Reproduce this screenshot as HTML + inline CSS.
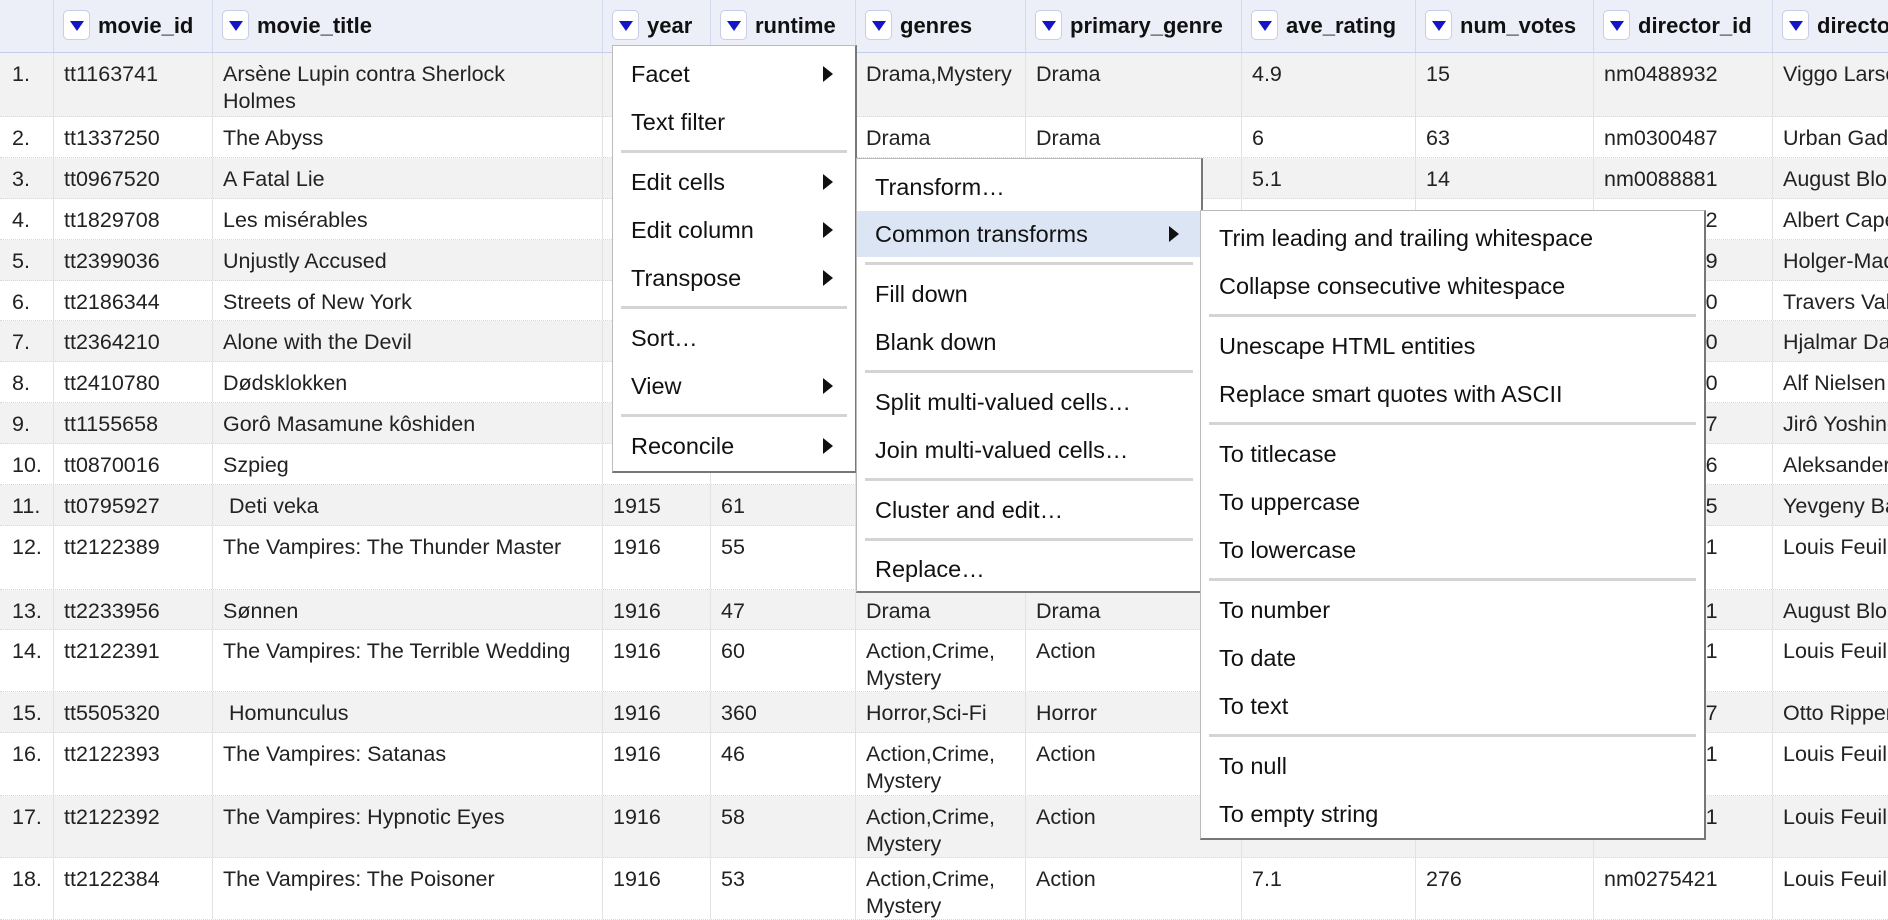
<!DOCTYPE html>
<html><head><meta charset="utf-8"><style>
body{margin:0;width:1888px;height:880px;overflow:hidden;background:#fff;font-family:"Liberation Sans",Arial,sans-serif;position:relative}
.hdr{position:absolute;left:0;top:0;width:1888px;height:52px;background:#eceef8;border-bottom:3px solid #c4cdf0}
.hc{position:absolute;top:0;height:52px;border-left:1px solid #d3d8ea;font-weight:bold;font-size:22px;line-height:52px;color:#111;white-space:nowrap;overflow:hidden}
.dd{display:inline-block;vertical-align:middle;width:27px;height:30px;margin:0 8px 4px 9px;background:#fff;border:1px solid #c9cde6;border-radius:5px;position:relative;box-sizing:border-box}
.dd:after{content:"";position:absolute;left:6px;top:10px;border-left:7px solid transparent;border-right:7px solid transparent;border-top:10px solid #1515c8}
.row{position:absolute;left:0;width:1888px;border-bottom:1px dotted #d8d8d8}
.c{position:absolute;top:0;bottom:0;border-left:1px solid #e2e2e2;padding:8px 10px 0 10px;box-sizing:border-box;font-size:21.5px;line-height:27px;color:#222;overflow:hidden}
.menu{position:absolute;background:#fff;border:1px solid #bbb;border-right:2px solid #777;border-bottom:2px solid #777;box-sizing:border-box}
.mi{position:absolute;left:0;right:0;height:46px;font-size:23.5px;line-height:46px;padding-left:18px;color:#111;white-space:nowrap}
.mi.hl{background:#dbe5f4}
.arr{position:absolute;right:22px;top:15px;border-top:8px solid transparent;border-bottom:8px solid transparent;border-left:10px solid #111}
.sep{position:absolute;left:8px;right:8px;height:0;border-top:3px solid #d4d4d4}
</style></head><body>
<div class="hdr"></div>
<div id="table"></div>
<script>
const colX=[0,53,212,602,710,855,1025,1241,1415,1593,1772,1888];
const colNames=["","movie_id","movie_title","year","runtime","genres","primary_genre","ave_rating","num_votes","director_id","director_name"];
const rowTops=[53,117,158,199,240,281,321,362,403,444,485,526,590,630,692,733,796,858,920];
const ids=["tt1163741","tt1337250","tt0967520","tt1829708","tt2399036","tt2186344","tt2364210","tt2410780","tt1155658","tt0870016","tt0795927","tt2122389","tt2233956","tt2122391","tt5505320","tt2122393","tt2122392","tt2122384"];
const titles=["Arsène Lupin contra Sherlock\nHolmes","The Abyss","A Fatal Lie","Les misérables","Unjustly Accused","Streets of New York","Alone with the Devil","Dødsklokken","Gorô Masamune kôshiden","Szpieg"," Deti veka","The Vampires: The Thunder Master","Sønnen","The Vampires: The Terrible Wedding"," Homunculus","The Vampires: Satanas","The Vampires: Hypnotic Eyes","The Vampires: The Poisoner"];
const years=["1910","1910","1911","1913","1913","1913","1914","1914","1914","1914","1915","1916","1916","1916","1916","1916","1916","1916"];
const runtimes=["","","","","","","","","","","61","55","47","60","360","46","58","53"];
const genres=["Drama,Mystery","Drama","Drama","Drama","Drama","Drama","Drama","Drama","Drama","Drama","Drama","Action,Crime, Mystery","Drama","Action,Crime, Mystery","Horror,Sci-Fi","Action,Crime, Mystery","Action,Crime, Mystery","Action,Crime, Mystery"];
const pgenres=["Drama","Drama","Drama","Drama","Drama","Drama","Drama","Drama","Drama","Drama","Drama","Action","Drama","Action","Horror","Action","Action","Action"];
const ratings=["4.9","6","5.1","6.4","5.8","5.5","6.0","5.9","6.1","6.3","6.2","7.0","5.9","7.1","6.2","7.0","7.1","7.1"];
const votes=["15","63","14","11","23","12","20","16","10","15","12","270","14","280","160","265","275","276"];
const dirIds=["nm0488932","nm0300487","nm0088881","nm0135072","nm0389779","nm0885720","nm0198190","nm0629830","nm0948577","nm0095676","nm0059655","nm0275421","nm0088881","nm0275421","nm0727617","nm0275421","nm0275421","nm0275421"];
const dirNames=["Viggo Larsen","Urban Gad","August Blom","Albert Capellani","Holger-Madsen","Travers Vale","Hjalmar Davidsen","Alf Nielsen","Jirô Yoshino","Aleksander Hertz","Yevgeny Bauer","Louis Feuillade","August Blom","Louis Feuillade","Otto Rippert","Louis Feuillade","Louis Feuillade","Louis Feuillade"];
const T=document.getElementById('table');
for(let i=1;i<colNames.length;i++){
  const h=document.createElement('div');h.className='hc';
  h.style.left=colX[i]+'px';h.style.width=(colX[i+1]-colX[i])+'px';
  
  
  const d=document.createElement('span');d.className='dd';
  
  
  h.appendChild(d);h.appendChild(document.createTextNode(colNames[i]));
  T.appendChild(h);
}
for(let r=0;r<ids.length;r++){
  const row=document.createElement('div');row.className='row';
  row.style.top=rowTops[r]+'px';row.style.height=(rowTops[r+1]-rowTops[r]-1)+'px';
  row.style.background=r%2===0?'#f2f2f2':'#fff';
  
  
  const vals=[(r+1)+'.',ids[r],titles[r],years[r],runtimes[r],genres[r],pgenres[r],ratings[r],votes[r],dirIds[r],dirNames[r]];
  for(let c=0;c<vals.length;c++){
    const cell=document.createElement('div');cell.className='c';
    cell.style.left=colX[c]+'px';cell.style.width=(colX[c+1]-colX[c])+'px';
    if(c===0){cell.style.borderLeft='none';cell.style.paddingLeft='12px';}
    cell.style.whiteSpace=(c===10)?'pre':'pre-wrap';
    cell.textContent=vals[c];
    
    
    row.appendChild(cell);
  }
  T.appendChild(row);
}
function menu(name,x,y,w,h,items){
  const m=document.createElement('div');m.className='menu';
  m.style.left=x+'px';m.style.top=y+'px';m.style.width=w+'px';m.style.height=h+'px';
  
  
  for(const it of items){
    if(it[0]==='-'){const s=document.createElement('div');s.className='sep';s.style.top=(it[1]-y-2)+'px';
      
      
      m.appendChild(s);continue;}
    const e=document.createElement('div');e.className='mi'+(it[3]?' hl':'');
    e.style.top=(it[1]-y-23)+'px';e.textContent=it[0];
    
    
    if(it[2]){const a=document.createElement('span');a.className='arr';e.appendChild(a);}
    m.appendChild(e);
  }
  document.body.appendChild(m);
}
menu('column-menu',612,45,245,428,[["Facet",73,1],["Text filter",121],["-",151],["Edit cells",181,1],["Edit column",229,1],["Transpose",277,1],["-",307],["Sort…",337],["View",385,1],["-",415],["Reconcile",445,1]]);
menu('edit-cells-submenu',856,158,347,435,[["Transform…",186],["Common transforms",233,1,1],["-",263],["Fill down",293],["Blank down",341],["-",371],["Split multi-valued cells…",401],["Join multi-valued cells…",449],["-",479],["Cluster and edit…",509],["-",539],["Replace…",568]]);
menu('common-transforms-submenu',1200,210,506,630,[["Trim leading and trailing whitespace",237],["Collapse consecutive whitespace",285],["-",315],["Unescape HTML entities",345],["Replace smart quotes with ASCII",393],["-",423],["To titlecase",453],["To uppercase",501],["To lowercase",549],["-",579],["To number",609],["To date",657],["To text",705],["-",735],["To null",765],["To empty string",813]]);
</script>
</body></html>
